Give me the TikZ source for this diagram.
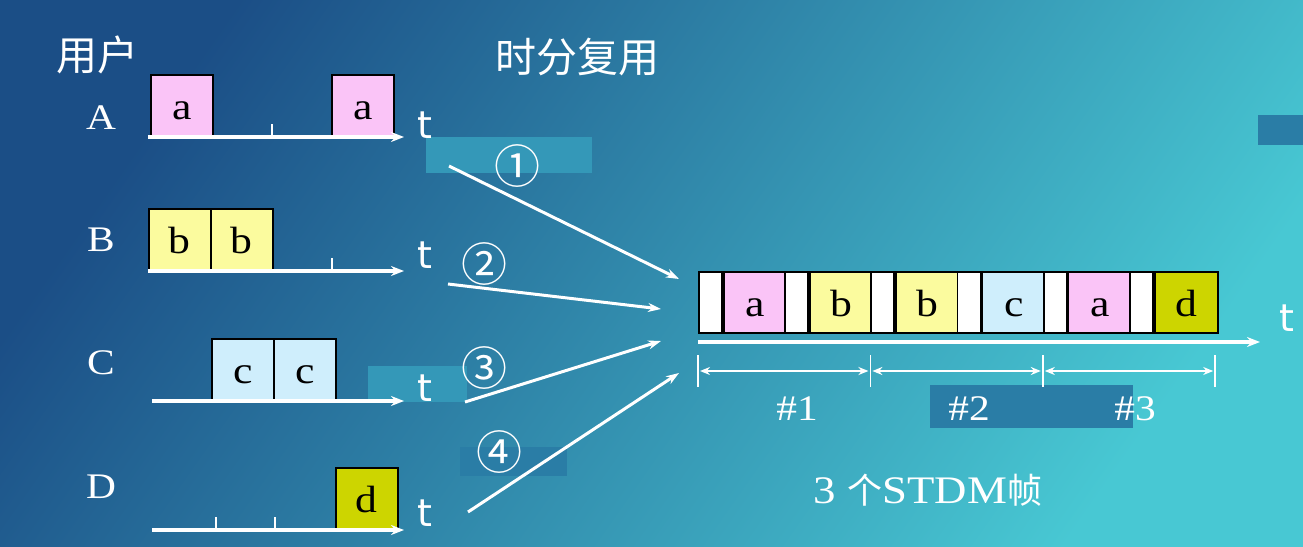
\documentclass[tikz,border=0pt]{standalone}
\usepackage{fontspec}
\setmainfont[FakeStretch=1.15]{Liberation Serif}
\newfontfamily\cjk{Noto Sans CJK SC}
\newfontfamily\symfont{DejaVu Sans}
\usetikzlibrary{arrows.meta,positioning}

\definecolor{bgdark}{HTML}{1B4E86}
\definecolor{bglight}{HTML}{48C8D3}
\definecolor{slotpink}{HTML}{FAC4F7}
\definecolor{slotyellow}{HTML}{FBFB9E}
\definecolor{slotblue}{HTML}{CFEEFC}
\definecolor{slotolive}{HTML}{CDD500}
\definecolor{patchlight}{HTML}{3498B8}
\definecolor{patchdark}{HTML}{2A7DA6}

\tikzset{
  slotbox/.style={draw=black, line width=1.8pt, minimum width=62pt, minimum height=61pt,
    anchor=south west, inner sep=0pt, text height=28pt, text depth=0pt,
    font=\fontsize{38}{38}\selectfont},
  timeaxis/.style={white, line width=3.5pt, -{Stealth[length=13pt,width=10pt]}},
  muxarrow/.style={white, line width=3pt, -{Stealth[length=13pt,width=9pt]}},
  spanarrow/.style={white, line width=2.5pt, {Stealth[length=10pt,width=8pt]}-{Stealth[length=10pt,width=8pt]}},
  userlabel/.style={white, font=\fontsize{36}{36}\selectfont},
  tlabel/.style={white, font=\symfont\fontsize{38}{38}\selectfont},
  circnum/.style={white, font=\cjk\fontsize{46}{46}\selectfont},
  title/.style={white, font=\cjk\fontsize{41}{41}\selectfont}
}

\begin{document}
\begin{tikzpicture}[x=1pt,y=-1pt]

  % background
  \useasboundingbox (0,0) rectangle (1303,546);
  \shade[left color=bgdark, right color=bglight, shading angle=55] (0,0) rectangle (1303,546);

  % faint patches
  \fill[patchlight] (426,137) rectangle (592,173);
  \fill[patchlight] (368,366) rectangle (467,402);
  \fill[patchdark] (460,447) rectangle (567,476);
  \fill[patchdark] (930,385) rectangle (1133,428);
  \fill[patchdark] (1258,115) rectangle (1303,145);

  % titles
  \node[title] (users) at (97,55) {用户};
  \node[title] (tdm) at (577,57) {时分复用};

  % user rows
  \node[userlabel] (uA) at (101,118) {A};
  \node[userlabel] (uB) at (101,240) {B};
  \node[userlabel] (uC) at (101,363) {C};
  \node[userlabel] (uD) at (101,487) {D};

  \node[slotbox, fill=slotpink] (a1) at (150,137) {a};
  \node[slotbox, fill=slotpink] (a2) at (331,137) {a};
  \node[slotbox, fill=slotyellow] (b1) at (148,271) {b};
  \node[slotbox, fill=slotyellow] (b2) at (210,271) {b};
  \node[slotbox, fill=slotblue] (c1) at (211,401) {c};
  \node[slotbox, fill=slotblue] (c2) at (273,401) {c};
  \node[slotbox, fill=slotolive] (d1) at (335,530) {d};

  % time axes
  \foreach \r/\xs/\y in {A/148/137, B/148/271, C/152/401, D/152/530} {
    \coordinate (ax\r) at (\xs,\y);
    \coordinate (ae\r) at (404,\y);
    \draw[timeaxis] (ax\r) -- (ae\r);
  }
  \foreach \x/\y in {272/137, 332/271, 216/530, 275/530}
    \draw[white, line width=1.5pt] (\x,\y) -- ++(0,-13);

  \node[tlabel] (tA) at (425,125) {t};
  \node[tlabel] (tB) at (425,255) {t};
  \node[tlabel] (tC) at (425,388) {t};
  \node[tlabel] (tD) at (425,513) {t};

  % multiplexed frame
  \foreach \ch/\col [count=\i from 0] in {a/slotpink, b/slotyellow, b/slotyellow, c/slotblue, a/slotpink, d/slotolive} {
    \node[slotbox, fill=white, minimum width=23pt] (w\i) at (698+86.2*\i,334) {};
    \node[slotbox, fill=\col, minimum width=63.2pt, right=0pt of w\i.south east, anchor=south west] (f\i) {\ch};
  }
  \coordinate (fs) at (698,342);
  \coordinate (fe) at (1260,342);
  \draw[timeaxis] (fs) -- (fe);
  \node[tlabel] (tF) at (1287,318) {t};

  % frame spans
  \foreach \x [count=\k] in {698,870.4,1042.8,1215.2}
    \draw[white, line width=1.5pt] (\x,355) coordinate (m\k) -- (\x,387);
  \draw[spanarrow] ([xshift=2pt]m1 |- 0,371) -- ([xshift=-2pt]m2 |- 0,371);
  \draw[spanarrow] ([xshift=2pt]m2 |- 0,371) -- ([xshift=-2pt]m3 |- 0,371);
  \draw[spanarrow] ([xshift=2pt]m3 |- 0,371) -- ([xshift=-2pt]m4 |- 0,371);
  \node[userlabel] (n1) at (797,409) {\#1};
  \node[userlabel] (n2) at (969,409) {\#2};
  \node[userlabel] (n3) at (1135,409) {\#3};
  \node[white, font=\fontsize{39}{39}\selectfont] (cap) at (928,490) {3 {\cjk\fontsize{35}{35}\selectfont 个}STDM{\cjk\fontsize{35}{35}\selectfont 帧}};

  % multiplexing arrows
  \coordinate (s1) at (449,166); \coordinate (e1) at (679,279);
  \coordinate (s2) at (448,284); \coordinate (e2) at (661,309);
  \coordinate (s3) at (465,402); \coordinate (e3) at (661,341);
  \coordinate (s4) at (468,512); \coordinate (e4) at (679,373);
  \foreach \k in {1,...,4}
    \draw[muxarrow] (s\k) -- (e\k);
  \node[circnum] (c1n) at (517,166) {①};
  \node[circnum] (c2n) at (484,264) {②};
  \node[circnum] (c3n) at (484,368) {③};
  \node[circnum] (c4n) at (499,452) {④};

\end{tikzpicture}
\end{document}
